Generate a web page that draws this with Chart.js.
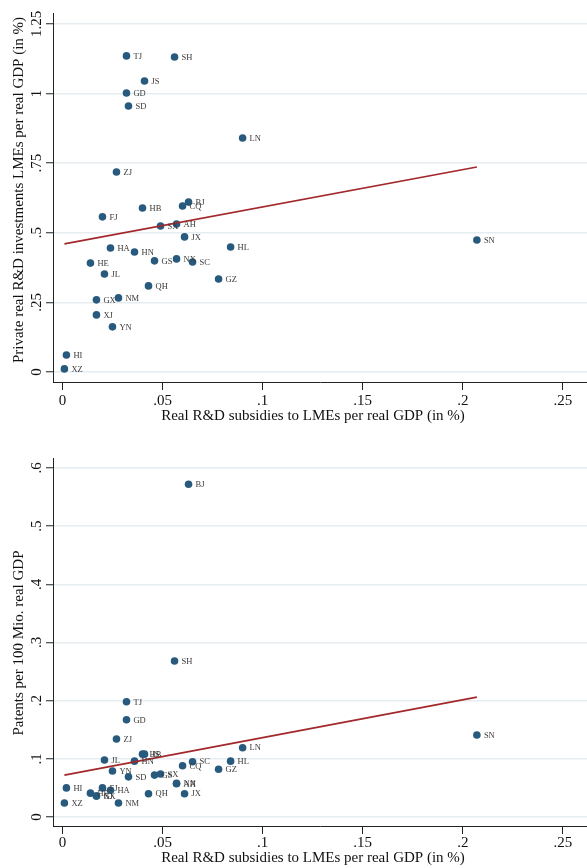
<!DOCTYPE html>
<html lang="en">
<head>
    <meta charset="UTF-8">
    <title>R&amp;D subsidies, investments and patents</title>
    <style>
        body {
            margin: 0;
            background-color: #fff;
        }
        canvas {
            display: block;
        }
    </style>
    <script src="https://cdn.jsdelivr.net/npm/chart.js"></script>
</head>
<body>
    <canvas id="top-chart" width="587" height="432"></canvas>
    <canvas id="bottom-chart" width="587" height="436"></canvas>
    <script>
        // province codes, same order in every array
        const provinces = ['TJ', 'SH', 'JS', 'GD', 'SD', 'LN', 'ZJ', 'BJ', 'CQ', 'HB', 'FJ', 'AH', 'SX', 'JX', 'HL', 'HA',
            'HN', 'HE', 'GS', 'NX', 'SC', 'JL', 'GZ', 'QH', 'GX', 'NM', 'XJ', 'YN', 'HI', 'XZ', 'SN'];

        // x: real R&D subsidies to LMEs per real GDP (in %)
        const subsidies = [0.032, 0.056, 0.041, 0.032, 0.033, 0.090, 0.027, 0.063, 0.060, 0.040, 0.020, 0.057, 0.049, 0.061, 0.084, 0.024,
            0.036, 0.014, 0.046, 0.057, 0.065, 0.021, 0.078, 0.043, 0.017, 0.028, 0.017, 0.025, 0.002, 0.001, 0.207];

        // top panel: private real R&D investments of LMEs per real GDP (in %)
        const investments = [1.135, 1.131, 1.045, 1.002, 0.955, 0.840, 0.718, 0.610, 0.596, 0.589, 0.557, 0.531, 0.524, 0.485, 0.449, 0.445,
            0.431, 0.391, 0.399, 0.406, 0.395, 0.352, 0.334, 0.309, 0.259, 0.266, 0.205, 0.162, 0.061, 0.011, 0.474];

        // bottom panel: patents per 100 Mio. real GDP
        const patents = [0.198, 0.268, 0.108, 0.167, 0.069, 0.119, 0.134, 0.572, 0.088, 0.108, 0.050, 0.057, 0.074, 0.040, 0.096, 0.046,
            0.096, 0.041, 0.072, 0.058, 0.095, 0.098, 0.082, 0.040, 0.036, 0.024, 0.036, 0.079, 0.050, 0.024, 0.141];

        // linear fit end points
        const fitX = [0.001, 0.207];
        const fitInvest = [0.460, 0.736];
        const fitPatent = [0.072, 0.206];

        const xTicks = [0, 0.05, 0.1, 0.15, 0.2, 0.25];
        const xTickLabels = ['0', '.05', '.1', '.15', '.2', '.25'];
        const investTicks = [0, 0.25, 0.5, 0.75, 1, 1.25];
        const investTickLabels = ['0', '.25', '.5', '.75', '1', '1.25'];
        const patentTicks = [0, 0.1, 0.2, 0.3, 0.4, 0.5, 0.6];
        const patentTickLabels = ['0', '.1', '.2', '.3', '.4', '.5', '.6'];

        const serif = '"Liberation Serif", "Times New Roman", serif';

        // draws the tick labels, titles and province labels by hand (Stata look)
        const stataText = {
            id: 'stataText',
            afterDatasetsDraw(chart, args, opts) {
                const ctx = chart.ctx;
                const xs = chart.scales.x;
                const ys = chart.scales.y;
                ctx.save();

                // point labels
                ctx.font = '8.5px ' + serif;
                ctx.textAlign = 'left';
                ctx.textBaseline = 'middle';
                ctx.fillStyle = '#3a3a3a';
                chart.getDatasetMeta(1).data.forEach((pt, i) => {
                    ctx.fillText(provinces[i], pt.x + 7, pt.y + 0.5);
                });

                ctx.fillStyle = '#111';
                ctx.font = '15px ' + serif;

                // x tick labels
                ctx.textAlign = 'center';
                ctx.textBaseline = 'middle';
                xTicks.forEach((v, i) => {
                    ctx.fillText(xTickLabels[i], xs.getPixelForValue(v), opts.xLabelY);
                });
                ctx.fillText('Real R&D subsidies to LMEs per real GDP (in %)', 313, opts.xTitleY);

                // y tick labels, rotated
                opts.yTicks.forEach((v, i) => {
                    ctx.save();
                    ctx.translate(37, ys.getPixelForValue(v));
                    ctx.rotate(-Math.PI / 2);
                    ctx.fillText(opts.yTickLabels[i], 0, 0);
                    ctx.restore();
                });

                ctx.save();
                ctx.translate(19, opts.yTitleY);
                ctx.rotate(-Math.PI / 2);
                ctx.fillText(opts.yTitle, 0, 0);
                ctx.restore();

                ctx.restore();
            }
        };

        function makeChart(id, yValues, fitY, yMin, yMax, yTicks, yTickLabels, yTitle, padTop, xAxisHeight, text) {
            const ctx = document.getElementById(id).getContext('2d');
            return new Chart(ctx, {
                type: 'scatter',
                data: {
                    datasets: [{
                        type: 'line',
                        data: fitX.map((x, i) => ({ x: x, y: fitY[i] })),
                        borderColor: '#a3282b',
                        borderWidth: 1.6,
                        pointRadius: 0,
                        fill: false
                    }, {
                        data: subsidies.map((x, i) => ({ x: x, y: yValues[i] })),
                        backgroundColor: '#285a7e',
                        borderColor: '#285a7e',
                        borderWidth: 0,
                        pointRadius: 3.8
                    }]
                },
                options: {
                    responsive: false,
                    animation: false,
                    layout: { autoPadding: false, padding: { top: padTop, left: 0, right: 0, bottom: 0 } },
                    plugins: {
                        legend: { display: false },
                        tooltip: { enabled: false },
                        stataText: Object.assign({ yTicks: yTicks, yTickLabels: yTickLabels, yTitle: yTitle }, text)
                    },
                    scales: {
                        x: {
                            type: 'linear',
                            min: -0.0047,
                            max: 0.262,
                            afterBuildTicks: s => { s.ticks = xTicks.map(v => ({ value: v })); },
                            afterFit: s => { s.height = xAxisHeight; },
                            ticks: { display: false },
                            grid: {
                                drawOnChartArea: false,
                                drawTicks: true,
                                tickLength: 8,
                                tickColor: '#222',
                                lineWidth: 1
                            },
                            border: { display: true, color: '#222', width: 1 }
                        },
                        y: {
                            type: 'linear',
                            min: yMin,
                            max: yMax,
                            afterBuildTicks: s => { s.ticks = yTicks.map(v => ({ value: v })); },
                            afterFit: s => { s.width = 53; },
                            ticks: { display: false },
                            grid: {
                                color: '#e6edf1',
                                lineWidth: 1.5,
                                drawTicks: true,
                                tickLength: 7,
                                tickColor: '#222',
                                tickWidth: 1
                            },
                            border: { display: true, color: '#222', width: 1 }
                        }
                    }
                },
                plugins: [stataText]
            });
        }

        makeChart('top-chart', investments, fitInvest, -0.036, 1.289, investTicks, investTickLabels,
            'Private real R&D investments LMEs per real GDP (in %)', 13, 50,
            { xLabelY: 401, xTitleY: 416, yTitleY: 190 });

        makeChart('bottom-chart', patents, fitPatent, -0.0155, 0.617, patentTicks, patentTickLabels,
            'Patents per 100 Mio. real GDP', 26, 42,
            { xLabelY: 411, xTitleY: 426, yTitleY: 211 });
    </script>
</body>
</html>
